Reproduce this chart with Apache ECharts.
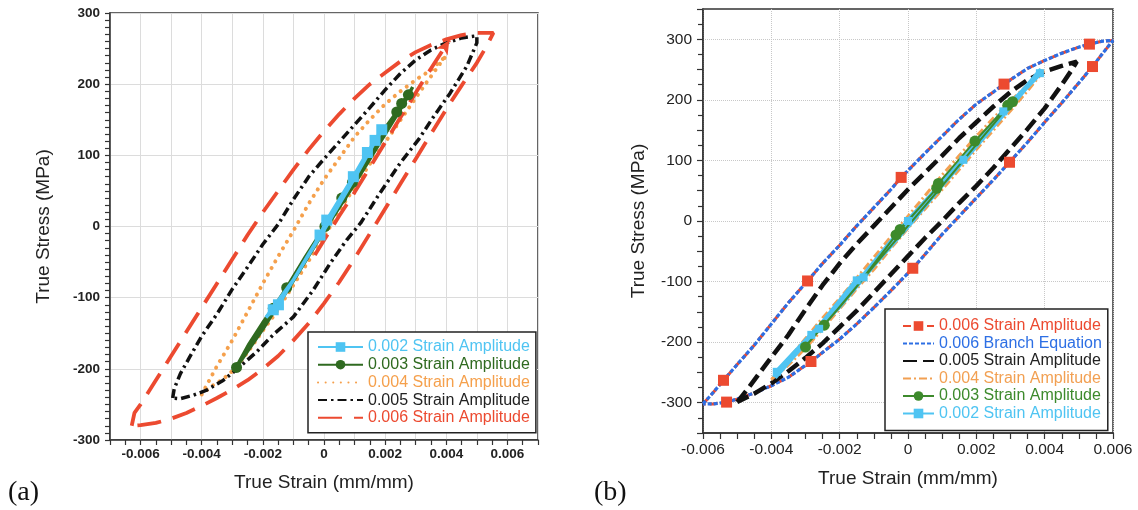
<!DOCTYPE html>
<html><head><meta charset="utf-8">
<script src="https://cdn.jsdelivr.net/npm/echarts@6/dist/echarts.min.js"></script>
<style>html,body{margin:0;padding:0;background:#fff}#c{width:1138px;height:510px}</style>
</head><body><div id="c"></div>
<script>
// ---------------- Panel (a) data (strain mm/mm, stress MPa) ----------------
const a6X = [-0.00629,-0.0062,-0.0060,-0.0055,-0.0050,-0.0045,-0.0040,-0.0035,-0.0030,-0.0025,-0.0020,-0.0015,-0.0010,-0.0005,0,0.0005,0.0010,0.0015,0.0020,0.0025,0.0030,0.0035,0.0040,0.0045,0.0050,0.00554,
             0.0053,0.0050,0.0045,0.0040,0.0035,0.0030,0.0025,0.0020,0.0015,0.0010,0.0005,0,-0.0005,-0.0010,-0.0015,-0.0020,-0.0025,-0.0030,-0.0035,-0.0040,-0.0045,-0.0050,-0.0055,-0.0060,-0.00629];
const a6Y = [-280,-262,-250,-216,-182,-148,-114,-80,-46,-12,20,50,80,108,134,158,180,200,216,232,245,255,263,269,272,272,
             252,230,198,165,130,95,60,25,-10,-45,-78,-108,-136,-160,-182,-200,-216,-229,-241,-252,-262,-270,-276,-279,-280];
const a6InX = [-0.0003,0.0005,0.0010,0.0015,0.0020,0.0025,0.0030,0.0035,0.0041];
const a6InY = [-40,15,48,83,118,153,188,222,262];
const a5X = [-0.00495,-0.0049,-0.0047,-0.0044,-0.0040,-0.0035,-0.0030,-0.0025,-0.0020,-0.0015,-0.0010,-0.0005,0,0.0005,0.0010,0.0015,0.0020,0.0025,0.0030,0.0035,0.0040,0.0045,0.0050,
             0.0050,0.00467,0.00412,0.00358,0.00309,0.00249,0.00183,0.0012,0.00074,0.0002,-0.00035,-0.0010,-0.00166,-0.0022,-0.00275,-0.00329,-0.00384,-0.00427,-0.00471,-0.00495];
const a5Y = [-241,-228,-207,-184,-154,-123,-88,-57,-25,3,38,70,95,119,143,167,192,215,234,248,258,265,268,
             258,225,187,154,122,89,47,5,-19,-52,-89,-127,-152,-176,-197,-216,-230,-237,-242,-241];
const a4X = [-0.0040,-0.0038,-0.0035,-0.0030,-0.0025,-0.0020,-0.0015,-0.0010,-0.0005,0,0.0005,0.0010,0.0015,0.0020,0.0025,0.0030,0.0035,0.0040,
             0.0038,0.00325,0.0027,0.00216,0.0015,0.0010,0.0005,0,-0.00035,-0.00079,-0.00122,-0.00155,-0.00198,-0.00242,-0.00286,-0.00329,-0.00373,-0.0040];
const a4Y = [-236,-220,-196,-160,-120,-80,-42,-6,32,66,96,126,150,172,190,206,220,240,
             229,196,162,128,88,55,22,-15,-38,-68,-97,-120,-145,-172,-198,-214,-226,-236];
const a3X = [-0.0029,-0.00245,-0.002,-0.00166,-0.00122,-0.0006,0.00003,0.00058,0.00093,0.0015,0.002,0.00238,0.00254,0.00276,0.0029,
             0.0026,0.002,0.001,0,-0.001,-0.002,-0.0029];
const a3Y = [-200,-165,-135,-115,-86,-42,0,40,62,103,138,161,173,185,196,
             172,130,60,-6,-76,-144,-200];
const a3MkX = [-0.00286,-0.00166,-0.00122,0.00003,0.00058,0.00093,0.00238,0.00254,0.00276];
const a3MkY = [-198,-115,-86,0,40,62,161,173,185];
const a2X = [-0.0019,-0.00166,-0.00149,-0.00013,0.00009,0.00096,0.00142,0.00167,0.00189,0.001,0,-0.001,-0.0019];
const a2Y = [-128,-117,-110,-12,9,70,104,121,136,68,-5,-75,-128];
const a2MkX = [-0.00166,-0.00149,-0.00013,0.00009,0.00096,0.00142,0.00167,0.00189];
const a2MkY = [-117,-110,-12,9,70,104,121,136];

// ---------------- Panel (b) data ----------------
const b6X = [-0.0060,-0.0057,-0.0054,-0.0050,-0.0045,-0.0040,-0.0035,-0.00294,-0.0025,-0.0020,-0.0015,-0.0010,-0.0005,-0.0002,0.0005,0.0010,0.0015,0.0020,0.0025,0.00281,0.0035,0.0040,0.0045,0.0050,0.00531,0.0057,0.0060,
             0.0057,0.0054,0.0050,0.0045,0.0040,0.0035,0.00297,0.0025,0.0020,0.0015,0.0010,0.0005,0.00014,-0.0005,-0.0010,-0.0015,-0.0020,-0.0025,-0.00284,-0.0035,-0.0040,-0.0045,-0.0050,-0.00531,-0.0057,-0.0060];
const b6Y = [-302,-283,-263,-237,-205,-170,-135,-99,-70,-40,-8,22,52,72,112,140,168,193,213,226,252,265,277,287,292,297,298,
             277,255,228,195,163,130,97,68,38,8,-22,-55,-78,-115,-143,-170,-195,-217,-232,-258,-272,-284,-294,-299,-302,-302];
const b6MkX = [0.00531,0.0054,0.00281,0.00297,-0.0002,0.00014,-0.00294,-0.00284,-0.0054,-0.00531];
const b6MkY = [292,255,226,97,72,-78,-99,-232,-263,-299];
const bBrX = b6X.slice();   // branch equation follows the same outer loop
const bBrY = b6Y.slice();
const b5X = [-0.0050,-0.0047,-0.0042,-0.0035,-0.0030,-0.0025,-0.0020,-0.0015,-0.0010,-0.0005,0,0.0005,0.0010,0.0015,0.0020,0.0025,0.0030,0.0035,0.0040,0.0045,0.00494,
             0.0048,0.0045,0.0040,0.0035,0.0030,0.0025,0.0020,0.0015,0.0010,0.0005,0,-0.0005,-0.0010,-0.0015,-0.0020,-0.0025,-0.0030,-0.0035,-0.0040,-0.0045,-0.0050];
const b5Y = [-299,-278,-240,-188,-146,-106,-70,-38,-8,22,52,80,108,137,163,189,213,233,247,256,263,
             250,225,186,152,120,88,58,30,0,-28,-58,-88,-118,-148,-175,-202,-226,-248,-268,-285,-299];
const b4X = [-0.004,-0.0035,-0.003,-0.0025,-0.002,-0.0015,-0.001,-0.0005,0,0.0005,0.001,0.0015,0.002,0.0025,0.003,0.0035,0.004,
             0.0035,0.003,0.0025,0.002,0.0015,0.001,0.0005,0,-0.0005,-0.001,-0.0015,-0.002,-0.0025,-0.003,-0.0035,-0.004];
const b4Y = [-262,-228,-194,-160,-128,-94,-60,-26,8,42,76,108,140,170,198,225,250,
             215,182,150,118,85,52,20,-12,-45,-80,-112,-145,-178,-210,-238,-262];
const b3X = [-0.00305,-0.00245,-0.0015,-0.00035,-0.00023,0.00084,0.00089,0.00196,0.00292,0.00306,0.002,0.001,0,-0.001,-0.002,-0.00305];
const b3Y = [-210,-172,-108,-23,-14,54,62,132,191,197,126,58,-8,-74,-142,-210];
const b3MkX = [-0.0030,-0.00245,-0.00035,-0.00023,0.00084,0.00089,0.00196,0.00292,0.00306];
const b3MkY = [-208,-172,-23,-14,54,62,132,191,197];
const b2X = [-0.0039,-0.00384,-0.00283,-0.0026,-0.0015,-0.0013,0,0.00162,0.00279,0.00386,0.0039,0.003,0.002,0.001,0,-0.001,-0.002,-0.003,-0.0039];
const b2Y = [-258,-249,-188,-175,-98,-90,0,101,181,244,250,190,125,60,-8,-72,-140,-200,-258];
const b2MkX = [-0.00384,-0.00283,-0.0026,-0.0015,-0.0013,0,0.00162,0.00279,0.00386];
const b2MkY = [-249,-188,-178,-98,-93,0,101,181,244];

const namesA = ['0.002 Strain Amplitude','0.003 Strain Amplitude','0.004 Strain Amplitude','0.005 Strain Amplitude','0.006 Strain Amplitude'];
const ZW = '\u200b';
const namesB = ['0.006 Strain Amplitude'+ZW,'0.006 Branch Equation'+ZW,'0.005 Strain Amplitude'+ZW,'0.004 Strain Amplitude'+ZW,'0.003 Strain Amplitude'+ZW,'0.002 Strain Amplitude'+ZW];

const C = {red:'#ec4a30', black:'#111111', orange:'#f5a04c', green:'#2f6a20', lblue:'#4fc4f2',
           bred:'#ec4a30', bblue:'#2d6fe4', bgreen:'#3d8a2c', borange:'#f2a052'};

const FONT = '"Liberation Sans", Arial, sans-serif';
const zip = (xs, ys) => xs.map((x, i) => [x, ys[i]]);

function lineS(name, gi, xs, ys, color, width, type, z, sym, symSize, cap) {
  return {type:'line', name, xAxisIndex:gi, yAxisIndex:gi, data:zip(xs, ys), showSymbol:false,
    symbol: sym || 'none', symbolSize: symSize || 8, itemStyle:{color},
    lineStyle:{color, width, type, cap: cap || 'butt'}, z, silent:true, animation:false, clip:true};
}
function markS(name, gi, xs, ys, color, sym, size, z, rot) {
  return {type:'scatter', name, xAxisIndex:gi, yAxisIndex:gi, data:zip(xs, ys), symbol:sym, symbolSize:size,
    symbolRotate: rot || 0, itemStyle:{color, opacity:1}, z, silent:true, animation:false};
}

const fmtA = v => { const k = Math.round(v*1000); if (k % 2 !== 0) return ''; return k === 0 ? '0' : (k/1000).toFixed(3); };
const fmtB = v => { const k = Math.round(v*1000); return k === 0 ? '0' : (k/1000).toFixed(3); };
const fmtBy = v => { const r = Math.round(v); return (r % 100 === 0) ? String(r) : ''; };

const axisCommon = {axisLine:{onZero:false, lineStyle:{color:'#333', width:1.5}}};
const noSym = {color:'rgba(0,0,0,0)', borderWidth:0};

const option = {
  backgroundColor:'#fff',
  animation:false,
  grid:[
    {left:110, top:13, width:428, height:427, show:true, borderColor:'#333', borderWidth:1.5},
    {left:703, top:9, width:410, height:424, show:true, borderColor:'#333', borderWidth:1.5}
  ],
  xAxis:[
    {gridIndex:0, type:'value', min:-0.007, max:0.007, interval:0.001, ...axisCommon,
     axisTick:{length:5, lineStyle:{color:'#333', width:1.2}},
     minorTick:{show:true, splitNumber:2, length:5, lineStyle:{color:'#333', width:1.2}},
     axisLabel:{formatter:fmtA, fontSize:13.5, fontWeight:'bold', color:'#222', margin:7, fontFamily:FONT},
     splitLine:{show:true, lineStyle:{color:'#dcdcdc', width:1}},
     name:'True Strain (mm/mm)', nameLocation:'middle', nameGap:33,
     nameTextStyle:{fontSize:19, color:'#222', fontFamily:FONT}},
    {gridIndex:1, type:'value', min:-0.006, max:0.006, interval:0.002, ...axisCommon,
     axisTick:{length:6, lineStyle:{color:'#333', width:1.2}},
     minorTick:{show:true, splitNumber:4, length:6, lineStyle:{color:'#333', width:1.2}},
     axisLabel:{formatter:fmtB, fontSize:15.5, color:'#222', margin:9, fontFamily:FONT},
     splitLine:{show:true, lineStyle:{color:'#c8c8c8', width:1, type:'dotted'}},
     name:'True Strain (mm/mm)', nameLocation:'middle', nameGap:36,
     nameTextStyle:{fontSize:19, color:'#222', fontFamily:FONT}}
  ],
  yAxis:[
    {gridIndex:0, type:'value', min:-300, max:300, interval:100, ...axisCommon,
     axisTick:{length:5, lineStyle:{color:'#333', width:1.2}},
     minorTick:{show:true, splitNumber:10, length:5, lineStyle:{color:'#333', width:1.2}},
     axisLabel:{fontSize:13.5, fontWeight:'bold', color:'#222', margin:10, fontFamily:FONT},
     splitLine:{show:true, lineStyle:{color:'#dcdcdc', width:1}},
     name:'True Stress (MPa)', nameLocation:'middle', nameGap:57,
     nameTextStyle:{fontSize:19, color:'#222', fontFamily:FONT}},
    {gridIndex:1, type:'value', min:-350, max:350, interval:50, ...axisCommon,
     axisTick:{length:6, lineStyle:{color:'#333', width:1.2}},
     minorTick:{show:true, splitNumber:2, length:5, lineStyle:{color:'#333', width:1.2}},
     axisLabel:{formatter:fmtBy, fontSize:15.5, color:'#222', margin:11, fontFamily:FONT},
     splitLine:{show:true, lineStyle:{color:['rgba(0,0,0,0)','#c8c8c8'], width:1, type:'dotted'}},
     name:'True Stress (MPa)', nameLocation:'middle', nameGap:55,
     nameTextStyle:{fontSize:19, color:'#222', fontFamily:FONT}}
  ],
  legend:[
    {orient:'vertical', left:308, top:332, itemWidth:45, itemHeight:12, itemGap:1.7,
     padding:[7,6,7,9], borderColor:'#222', borderWidth:1.5, backgroundColor:'#fff',
     textStyle:{fontSize:16, fontFamily:FONT, lineHeight:16}, selectedMode:false, z:20,
     data:[
       {name:namesA[0], textStyle:{color:C.lblue}},
       {name:namesA[1], textStyle:{color:C.green}},
       {name:namesA[2], textStyle:{color:C.orange}, itemStyle:noSym},
       {name:namesA[3], textStyle:{color:'#222'}, itemStyle:noSym},
       {name:namesA[4], textStyle:{color:C.red}, itemStyle:noSym}
     ]},
    {orient:'vertical', left:885, top:309, itemWidth:31, itemHeight:12, itemGap:1.5,
     padding:[9,6,9,17], borderColor:'#222', borderWidth:1.5, backgroundColor:'#fff',
     textStyle:{fontSize:16, fontFamily:FONT, lineHeight:16}, selectedMode:false, z:20,
     data:[
       {name:namesB[0], textStyle:{color:C.bred}},
       {name:namesB[1], textStyle:{color:C.bblue}, itemStyle:noSym},
       {name:namesB[2], textStyle:{color:'#222'}, itemStyle:noSym},
       {name:namesB[3], textStyle:{color:C.borange}, itemStyle:noSym},
       {name:namesB[4], textStyle:{color:C.bgreen}},
       {name:namesB[5], textStyle:{color:C.lblue}}
     ]}
  ],
  graphic:[
    {type:'text', left:8, top:479, style:{text:'(a)', font:'28px "Liberation Serif", "Times New Roman", serif', fill:'#111'}},
    {type:'text', left:594, top:479, style:{text:'(b)', font:'28px "Liberation Serif", "Times New Roman", serif', fill:'#111'}}
  ],
  series:[
    // panel (a)
    lineS(namesA[0], 0, a2X, a2Y, C.lblue, 3.5, 'solid', 9, 'rect', 10),
    lineS(namesA[1], 0, a3X, a3Y, C.green, 3.5, 'solid', 7, 'circle', 10),
    lineS(namesA[2], 0, a4X, a4Y, C.orange, 4, [0.1, 7.5], 4, 'none', 8, 'round'),
    lineS(namesA[3], 0, a5X, a5Y, C.black, 3.5, [9, 4, 2.5, 4], 5, 'none'),
    lineS(namesA[4], 0, a6X, a6Y, C.red, 3.8, [24, 12], 6, 'none'),
    lineS(namesA[4], 0, a6InX, a6InY, C.red, 3.8, [24, 12], 6, 'none'),
    markS(namesA[4], 0, a6InX.slice(-1), a6InY.slice(-1), C.red, 'arrow', [10, 14], 6, -32),
    markS(namesA[1], 0, a3MkX, a3MkY, C.green, 'circle', 11, 8),
    markS(namesA[0], 0, a2MkX, a2MkY, C.lblue, 'rect', 11, 10),
    // panel (b)
    lineS(namesB[0], 1, b6X, b6Y, C.bred, 3, [8, 4], 3, 'rect', 10),
    lineS(namesB[1], 1, bBrX, bBrY, C.bblue, 3.2, [4, 2], 4, 'none'),
    lineS(namesB[2], 1, b5X, b5Y, C.black, 4.5, [14, 6], 5, 'none'),
    lineS(namesB[3], 1, b4X, b4Y, C.borange, 3, [8, 3, 2, 3], 6, 'none'),
    lineS(namesB[5], 1, b2X, b2Y, C.lblue, 5, 'solid', 7, 'rect', 8),
    lineS(namesB[4], 1, b3X, b3Y, C.bgreen, 2, 'solid', 8, 'circle', 11),
    markS(namesB[4], 1, b3MkX, b3MkY, C.bgreen, 'circle', 11, 9),
    markS(namesB[5], 1, b2MkX, b2MkY, C.lblue, 'rect', 8, 10),
    markS(namesB[0], 1, b6MkX, b6MkY, C.bred, 'rect', 11, 11)
  ]
};
const chart = echarts.init(document.getElementById('c'), null, {renderer:'canvas'});
chart.setOption(option);
</script>
</body></html>
